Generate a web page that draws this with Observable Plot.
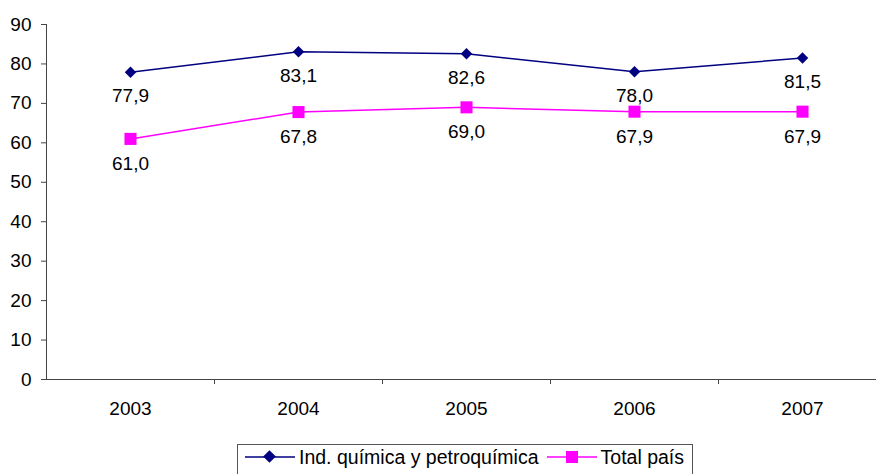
<!DOCTYPE html>
<html>
<head>
<meta charset="utf-8">
<script src="https://cdn.jsdelivr.net/npm/d3@7"></script>
<script src="https://cdn.jsdelivr.net/npm/@observablehq/plot@0.6"></script>
<style>
  html, body { margin: 0; padding: 0; background: #fff; overflow: hidden; }
  #wrap { position: relative; width: 876px; height: 474px; font-family: "Liberation Sans", Arial, sans-serif; }
  #legend { position: absolute; left: 237px; top: 444px; width: 456px; height: 34px; border: 1px solid #555; box-sizing: border-box;
            display: flex; align-items: flex-start; font-size: 19.5px; color: #000; padding-left: 7px; padding-top: 1px; white-space: nowrap; }
  #legend .item { display: flex; align-items: center; height: 22px; }
  #legend svg { display: block; margin-right: 4px; }
</style>
</head>
<body>
<div id="wrap"></div>
<script>
const years = [2003, 2004, 2005, 2006, 2007];
const industria = [77.9, 83.1, 82.6, 78.0, 81.5];
const totalPais = [61.0, 67.8, 69.0, 67.9, 67.9];
const yTicks = [0, 10, 20, 30, 40, 50, 60, 70, 80, 90];
const seriesNames = ["Ind. química y petroquímica", "Total país"];
const seriesColors = ["#000080", "#FF00FF"];

const rowsA = years.map((y, i) => ({year: y, value: industria[i]}));
const rowsB = years.map((y, i) => ({year: y, value: totalPais[i]}));
const fmt = v => v.toFixed(1).replace(".", ",");
const bounds = years.slice(0, -1).map(y => y + 0.5);

const font = "Liberation Sans, Arial, sans-serif";

const chart = Plot.plot({
  width: 876,
  height: 474,
  marginLeft: 46,
  marginRight: 0,
  marginTop: 24,
  marginBottom: 95,
  style: {fontFamily: font, fontSize: "19px", color: "#000", background: "#fff", overflow: "visible"},
  x: {type: "linear", domain: [years[0] - 0.5, years[years.length - 1] + 0.5], range: [46, 886]},
  y: {domain: [0, 90], range: [379, 24]},
  marks: [
    Plot.axisY({ticks: yTicks, tickSize: 5, tickPadding: 10, stroke: "#444", fontSize: 19, label: null}),
    Plot.axisX({ticks: bounds, tickSize: 5, tickFormat: () => "", stroke: "#444", label: null}),
    Plot.axisX({ticks: years, tickSize: 0, tickPadding: 22, tickFormat: d => String(d), fontSize: 19, label: null}),
    Plot.ruleY([0], {stroke: "#444", strokeWidth: 1}),
    Plot.ruleX([years[0] - 0.5], {y1: 0, y2: 90, stroke: "#444", strokeWidth: 1}),
    Plot.line(rowsA, {x: "year", y: "value", stroke: seriesColors[0], strokeWidth: 1.5}),
    Plot.line(rowsB, {x: "year", y: "value", stroke: seriesColors[1], strokeWidth: 1.5}),
    Plot.dot(rowsA, {x: "year", y: "value", symbol: "diamond2", r: 5.2, fill: seriesColors[0], stroke: "none"}),
    Plot.dot(rowsB, {x: "year", y: "value", symbol: "square", r: 6.8, fill: seriesColors[1], stroke: "none"}),
    Plot.text(rowsA, {x: "year", y: "value", text: d => fmt(d.value), dy: 24, fontSize: 19, fill: "#000"}),
    Plot.text(rowsB, {x: "year", y: "value", text: d => fmt(d.value), dy: 25, fontSize: 19, fill: "#000"})
  ]
});

const wrap = document.getElementById("wrap");
wrap.appendChild(chart);

const legend = document.createElement("div");
legend.id = "legend";
legend.innerHTML = seriesNames.map((n, i) =>
  '<div class="item" style="margin-right:' + (i === 0 ? 8 : 0) + 'px">' +
  '<svg width="50" height="22"><line x1="0" x2="50" y1="11" y2="11" stroke="' + seriesColors[i] + '" stroke-width="1.5"/>' +
  (i === 0
    ? '<rect x="20" y="6" width="9" height="9" transform="rotate(45 24.5 10.5)" fill="' + seriesColors[0] + '"/>'
    : '<rect x="19" y="5" width="12" height="12" fill="' + seriesColors[1] + '"/>') +
  '</svg><span>' + n + '</span></div>'
).join("");
wrap.appendChild(legend);
</script>
</body>
</html>
